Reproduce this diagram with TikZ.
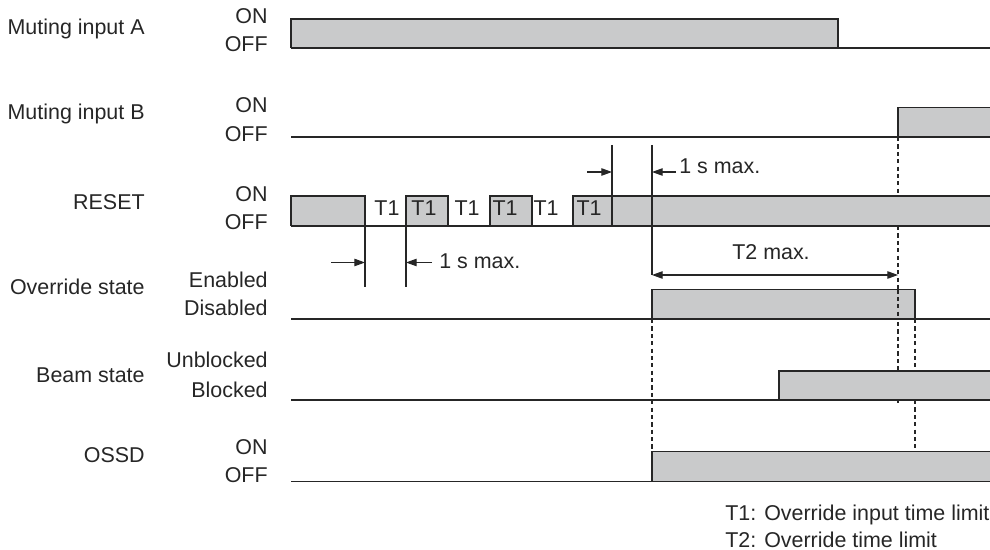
\documentclass[tikz,border=0pt]{standalone}
\usepackage{fontspec}
\setmainfont{Liberation Sans}
\usetikzlibrary{arrows.meta}
\definecolor{wfill}{RGB}{201,202,203}
\definecolor{ink}{RGB}{38,38,38}
\begin{document}
\begin{tikzpicture}[x=0.02cm,y=-0.02cm,
  lbl/.style={font=\fontsize{12.2}{14}\selectfont, text=ink, inner sep=0pt},
  baseln/.style={draw=ink, line width=1.1pt},
  pulse/.style={draw=ink, fill=wfill, line width=0.75pt},
  thinln/.style={draw=ink, line width=0.6pt},
  dashln/.style={draw=ink, line width=0.65pt, dash pattern=on 2.4pt off 1.8pt},
  dim/.style={draw=ink, line width=0.6pt, -{Triangle[length=6pt,width=4.2pt]}},
  dimboth/.style={draw=ink, line width=0.6pt, {Triangle[length=6pt,width=4.2pt]}-{Triangle[length=6pt,width=4.2pt]}},
]
\useasboundingbox (0,0) rectangle (990,550);

% ---------- labels ----------
\node[lbl, anchor=base east] (nA)  at (145,35)    {Muting input A};
\node[lbl, anchor=base east] (nAon)  at (268,24)  {ON};
\node[lbl, anchor=base east] (nAoff) at (268,51.5){OFF};
\node[lbl, anchor=base east] (nB)  at (145,120)   {Muting input B};
\node[lbl, anchor=base east] (nBon)  at (268,113) {ON};
\node[lbl, anchor=base east] (nBoff) at (268,141.5){OFF};
\node[lbl, anchor=base east] (nR)  at (145,210)   {RESET};
\node[lbl, anchor=base east] (nRon)  at (268,201.5){ON};
\node[lbl, anchor=base east] (nRoff) at (268,230) {OFF};
\node[lbl, anchor=base east] (nO)  at (145,295)   {Override state};
\node[lbl, anchor=base east] (nOen) at (268,287.5){Enabled};
\node[lbl, anchor=base east] (nOdis) at (268,315.5){Disabled};
\node[lbl, anchor=base east] (nBm) at (145,382)   {Beam state};
\node[lbl, anchor=base east] (nBmu) at (268,367.5){Unblocked};
\node[lbl, anchor=base east] (nBmb) at (268,397.5){Blocked};
\node[lbl, anchor=base east] (nS)  at (145,462)   {OSSD};
\node[lbl, anchor=base east] (nSon) at (268,454.5){ON};
\node[lbl, anchor=base east] (nSoff) at (268,482.5){OFF};

% ---------- dashed guide lines ----------
\draw[dashln] (652,319) -- (652,451);
\draw[dashln] (898,137) -- (898,196);
\draw[dashln] (898,226) -- (898,371);
\draw[dashln] (898,400) -- (898,403);
\draw[dashln] (915,319) -- (915,371);
\draw[dashln] (915,400) -- (915,451);

% ---------- Muting input A ----------
\path[pulse] (291,48) -- (291,19) -- (838,19) -- (838,48);
\draw[baseln] (291,48) -- (990,48);

% ---------- Muting input B ----------
\path[pulse] (898,137) -- (898,107.5) -- (991,107.5) -- (991,137);
\draw[baseln] (291,137) -- (990,137);

% ---------- RESET ----------
\path[pulse] (291,226) -- (291,196) -- (365,196) -- (365,226);
\path[pulse] (406,226) -- (406,196) -- (448,196) -- (448,226);
\path[pulse] (490,226) -- (490,196) -- (532,196) -- (532,226);
\path[pulse] (573,226) -- (573,196) -- (991,196) -- (991,226);
\draw[baseln] (291,226) -- (990,226);
\foreach \xx/\nm in {387/t1a,424/t1b,467/t1c,505/t1d,546/t1e,589/t1f}
  \node[lbl, anchor=base] (\nm) at (\xx,215.5) {T1};

% ---------- Override state ----------
\path[pulse] (652,319) -- (652,289.5) -- (915,289.5) -- (915,319);
\draw[dashln] (898,289.5) -- (898,319);
\draw[baseln] (291,319) -- (990,319);

% ---------- Beam state ----------
\path[pulse] (779,400) -- (779,371) -- (991,371) -- (991,400);
\draw[baseln] (291,400) -- (990,400);

% ---------- OSSD ----------
\path[pulse] (652,481.5) -- (652,451.5) -- (991,451.5) -- (991,481.5);
\draw[baseln] (291,481.5) -- (990,481.5);

% ---------- dimension lines ----------
\coordinate (v1t) at (612,145);  \coordinate (v1b) at (612,226);
\coordinate (v2t) at (652,145);  \coordinate (v2b) at (652,275);
\draw[thinln] (v1t) -- (v1b);
\draw[thinln] (v2t) -- (v2b);
\coordinate (u1) at (587,172); \coordinate (u1e) at (612,172);
\draw[dim] (u1) -- (u1e);
\coordinate (u2) at (676,172); \coordinate (u2e) at (652,172);
\draw[dim] (u2) -- (u2e);
\node[lbl, anchor=base west] (m1) at (679,174) {1 s max.};

\coordinate (w1t) at (365,226); \coordinate (w1b) at (365,287);
\coordinate (w2t) at (406,226); \coordinate (w2b) at (406,287);
\draw[thinln] (w1t) -- (w1b);
\draw[thinln] (w2t) -- (w2b);
\coordinate (l1) at (331,262.5); \coordinate (l1e) at (365,262.5);
\draw[dim] (l1) -- (l1e);
\coordinate (l2) at (432,262.5); \coordinate (l2e) at (406,262.5);
\draw[dim] (l2) -- (l2e);
\node[lbl, anchor=base west] (m2) at (439,268.5) {1 s max.};

\coordinate (t2a) at (652,275); \coordinate (t2b) at (898,275);
\draw[dimboth] (t2a) -- (t2b);
\node[lbl, anchor=base] (m3) at (771,260) {T2 max.};

% ---------- footnote ----------
\node[lbl, anchor=base west] (f1) at (725,520) {T1: Override input time limit};
\node[lbl, anchor=base west] (f2) at (725,547) {T2: Override time limit};
\end{tikzpicture}
\end{document}
